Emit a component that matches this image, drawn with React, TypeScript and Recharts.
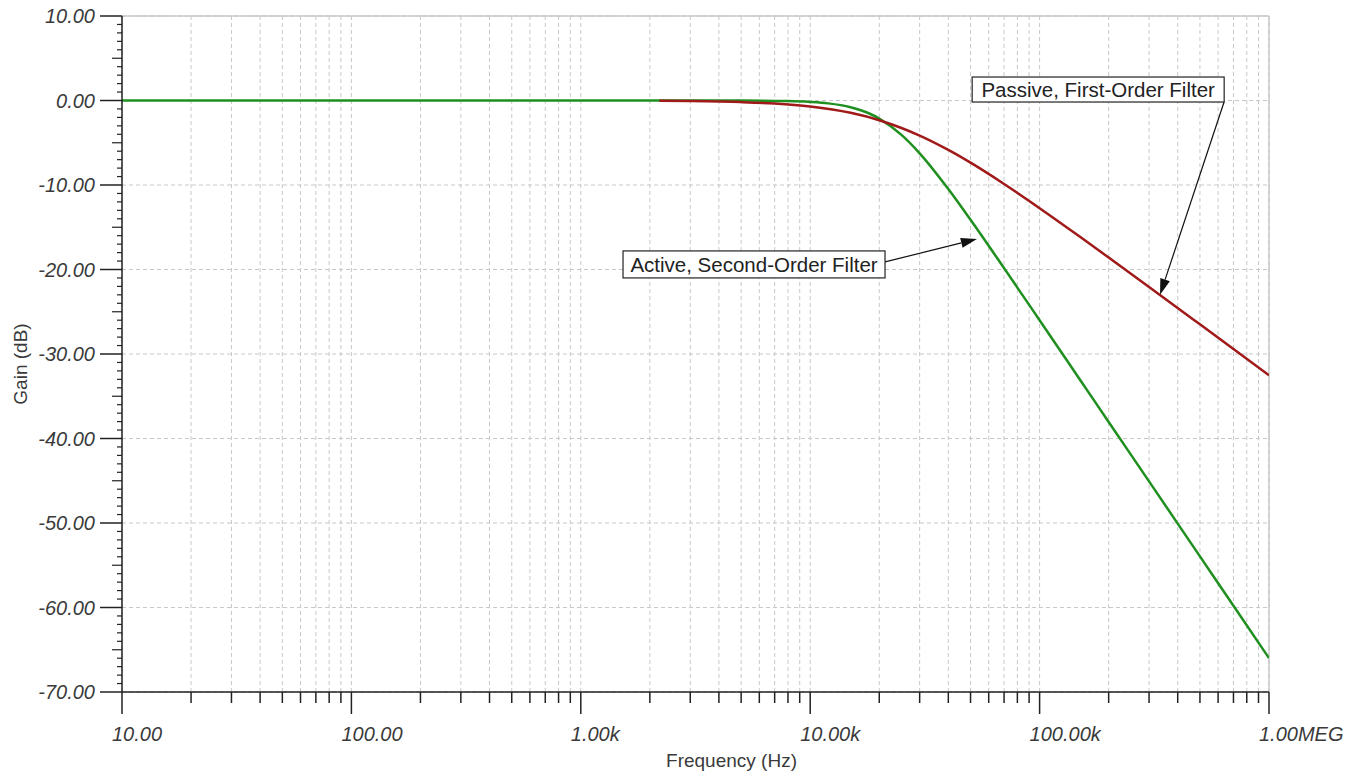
import React from 'react'
import { LineChart, Line, XAxis, YAxis, CartesianGrid, ReferenceLine, ReferenceDot } from 'recharts'

// Active, second-order filter
const freqActive = [10, 100, 1000, 5000, 8000, 10000, 12000, 15000, 18000, 20000, 25000, 30000, 40000, 50000, 70000, 100000, 150000, 200000, 300000, 500000, 700000, 1000000]
const gainActive = [0, 0, 0, -0.01, -0.07, -0.17, -0.34, -0.8, -1.51, -2.14, -4.07, -6.25, -10.48, -14.12, -19.84, -26.0, -33.04, -38.04, -45.07, -53.95, -59.79, -65.99]

// Passive, first-order filter (red curve, starts near 2.2 kHz)
const freqPassive = [2200, 3000, 5000, 7000, 10000, 15000, 20000, 25000, 30000, 40000, 50000, 70000, 100000, 150000, 200000, 300000, 500000, 700000, 1000000]
const gainPassive = [-0.04, -0.07, -0.19, -0.36, -0.71, -1.46, -2.33, -3.25, -4.15, -5.85, -7.36, -9.88, -12.74, -16.13, -18.59, -22.07, -26.49, -29.41, -32.51]

const decadeTicks = [10, 100, 1000, 10000, 100000, 1000000]
const decadeLabels = ['10.00', '100.00', '1.00k', '10.00k', '100.00k', '1.00MEG']
const minorSteps = [2, 3, 4, 5, 6, 7, 8, 9]
const yTicks = [10, 0, -10, -20, -30, -40, -50, -60, -70]
const yMinorTicks = Array.from({ length: 81 }, (_, i) => 10 - i).filter((v) => v % 10 !== 0)

const xTicks = [
  ...decadeTicks,
  ...decadeTicks.slice(0, -1).flatMap((d) => minorSteps.map((m) => m * d)),
].sort((a, b) => a - b)

const activeData = freqActive.map((f, i) => ({ f, gain: gainActive[i] }))
const passiveData = freqPassive.map((f, i) => ({ f, gain: gainPassive[i] }))

const FONT = '"Liberation Sans", Arial, sans-serif'
const TEXT = '#3a3a3a'
const AXIS = '#222'

function XTick(props: any) {
  const { x, y, payload } = props
  const idx = decadeTicks.indexOf(payload.value)
  const major = idx >= 0
  return (
    <g>
      <line x1={x} x2={x} y1={y} y2={y + (major ? 22 : 11)} stroke={AXIS} strokeWidth={1.5} />
      {major && (
        <text x={x - 10} y={y + 49} fontFamily={FONT} fontStyle='italic' fontSize={20} fill={TEXT}>
          {decadeLabels[idx]}
        </text>
      )}
    </g>
  )
}

function YTick(props: any) {
  const { x, y, payload } = props
  return (
    <g>
      <line x1={x - 22} x2={x} y1={y} y2={y} stroke={AXIS} strokeWidth={1.5} />
      <text x={x - 27} y={y} dy='0.36em' textAnchor='end' fontFamily={FONT} fontStyle='italic' fontSize={20} fill={TEXT}>
        {payload.value.toFixed(2)}
      </text>
    </g>
  )
}

// small tick on the left axis, placed through the chart scales by a ReferenceDot
function minorTick(v: number) {
  const len = v % 5 === 0 ? 10 : 5
  return (props: any) => {
    const { cx, cy } = props
    return <line x1={cx - len} x2={cx} y1={cy} y2={cy} stroke={AXIS} strokeWidth={1.2} />
  }
}

function Arrow(props: any) {
  const { x1, y1, x2, y2 } = props
  const a = Math.atan2(y2 - y1, x2 - x1)
  const L = 16
  const W = 5
  const bx = x2 - L * Math.cos(a)
  const by = y2 - L * Math.sin(a)
  const px = -Math.sin(a) * W
  const py = Math.cos(a) * W
  return (
    <g>
      <line x1={x1} y1={y1} x2={bx} y2={by} stroke='#111' strokeWidth={1.2} />
      <polygon points={`${x2},${y2} ${bx + px},${by + py} ${bx - px},${by - py}`} fill='#111' />
    </g>
  )
}

function boxLabel(text: string, w: number, h: number) {
  return (props: any) => {
    const { cx, cy } = props
    return (
      <g>
        <rect x={cx - w / 2} y={cy - h / 2} width={w} height={h} fill='#fff' stroke='#222' strokeWidth={1.2} />
        <text x={cx} y={cy} dy='0.36em' textAnchor='middle' fontFamily={FONT} fontSize={20.5} fill='#222'>
          {text}
        </text>
      </g>
    )
  }
}

function GainLabel(props: any) {
  const { viewBox } = props
  const cx = viewBox.x + 10
  const cy = viewBox.y + viewBox.height / 2 + 10
  return (
    <text x={cx} y={cy} dy='0.36em' transform={`rotate(-90 ${cx} ${cy})`} textAnchor='middle' fontFamily={FONT} fontSize={19} fill={TEXT}>
      Gain (dB)
    </text>
  )
}

// annotation anchors in data coordinates [frequency, dB]
const passiveBox = [180000, 1.3]
const activeBox = [5690, -19.4]
const passiveArrow = [[637000, -0.18], [335000, -23.0]]
const activeArrow = [[21200, -19.1], [53300, -16.4]]

export default function App(): JSX.Element {
  return (
    <div>
      <style>{'body{margin:0;background:#fff}'}</style>
      <LineChart width={1361} height={778} margin={{ top: 16, right: 92, bottom: 6, left: 10 }}>
        <CartesianGrid stroke='#c8c8c8' strokeDasharray='4 3' />
        <XAxis
          dataKey='f'
          type='number'
          scale='log'
          domain={[10, 1000000]}
          allowDataOverflow
          ticks={xTicks}
          interval={0}
          tick={<XTick />}
          tickLine={false}
          tickSize={0}
          tickMargin={0}
          height={80}
          axisLine={{ stroke: AXIS, strokeWidth: 1.5 }}
          label={{ value: 'Frequency (Hz)', position: 'insideBottom', offset: 5, dx: 36, fill: TEXT, fontSize: 19, fontFamily: FONT }}
        />
        <YAxis
          type='number'
          domain={[-70, 10]}
          allowDataOverflow
          ticks={yTicks}
          interval={0}
          tick={<YTick />}
          tickLine={false}
          tickSize={0}
          tickMargin={0}
          width={112}
          axisLine={{ stroke: AXIS, strokeWidth: 1.5 }}
          label={<GainLabel />}
        />
        <ReferenceLine y={10} stroke='#c8c8c8' strokeWidth={1.5} />
        <ReferenceLine x={1000000} stroke='#c8c8c8' strokeWidth={1.5} />
        {yMinorTicks.map((v) => (
          <ReferenceDot key={v} x={10} y={v} shape={minorTick(v)} />
        ))}
        <Line data={activeData} dataKey='gain' type='monotone' stroke='#1f901f' strokeWidth={2.5} dot={false} isAnimationActive={false} />
        <Line data={passiveData} dataKey='gain' type='monotone' stroke='#a01a1a' strokeWidth={2.5} dot={false} isAnimationActive={false} />
        <ReferenceLine
          segment={[{ x: passiveArrow[0][0], y: passiveArrow[0][1] }, { x: passiveArrow[1][0], y: passiveArrow[1][1] }]}
          shape={<Arrow />}
        />
        <ReferenceLine
          segment={[{ x: activeArrow[0][0], y: activeArrow[0][1] }, { x: activeArrow[1][0], y: activeArrow[1][1] }]}
          shape={<Arrow />}
        />
        <ReferenceDot x={passiveBox[0]} y={passiveBox[1]} shape={boxLabel('Passive, First-Order Filter', 252, 25)} />
        <ReferenceDot x={activeBox[0]} y={activeBox[1]} shape={boxLabel('Active, Second-Order Filter', 262, 27)} />
      </LineChart>
    </div>
  )
}
